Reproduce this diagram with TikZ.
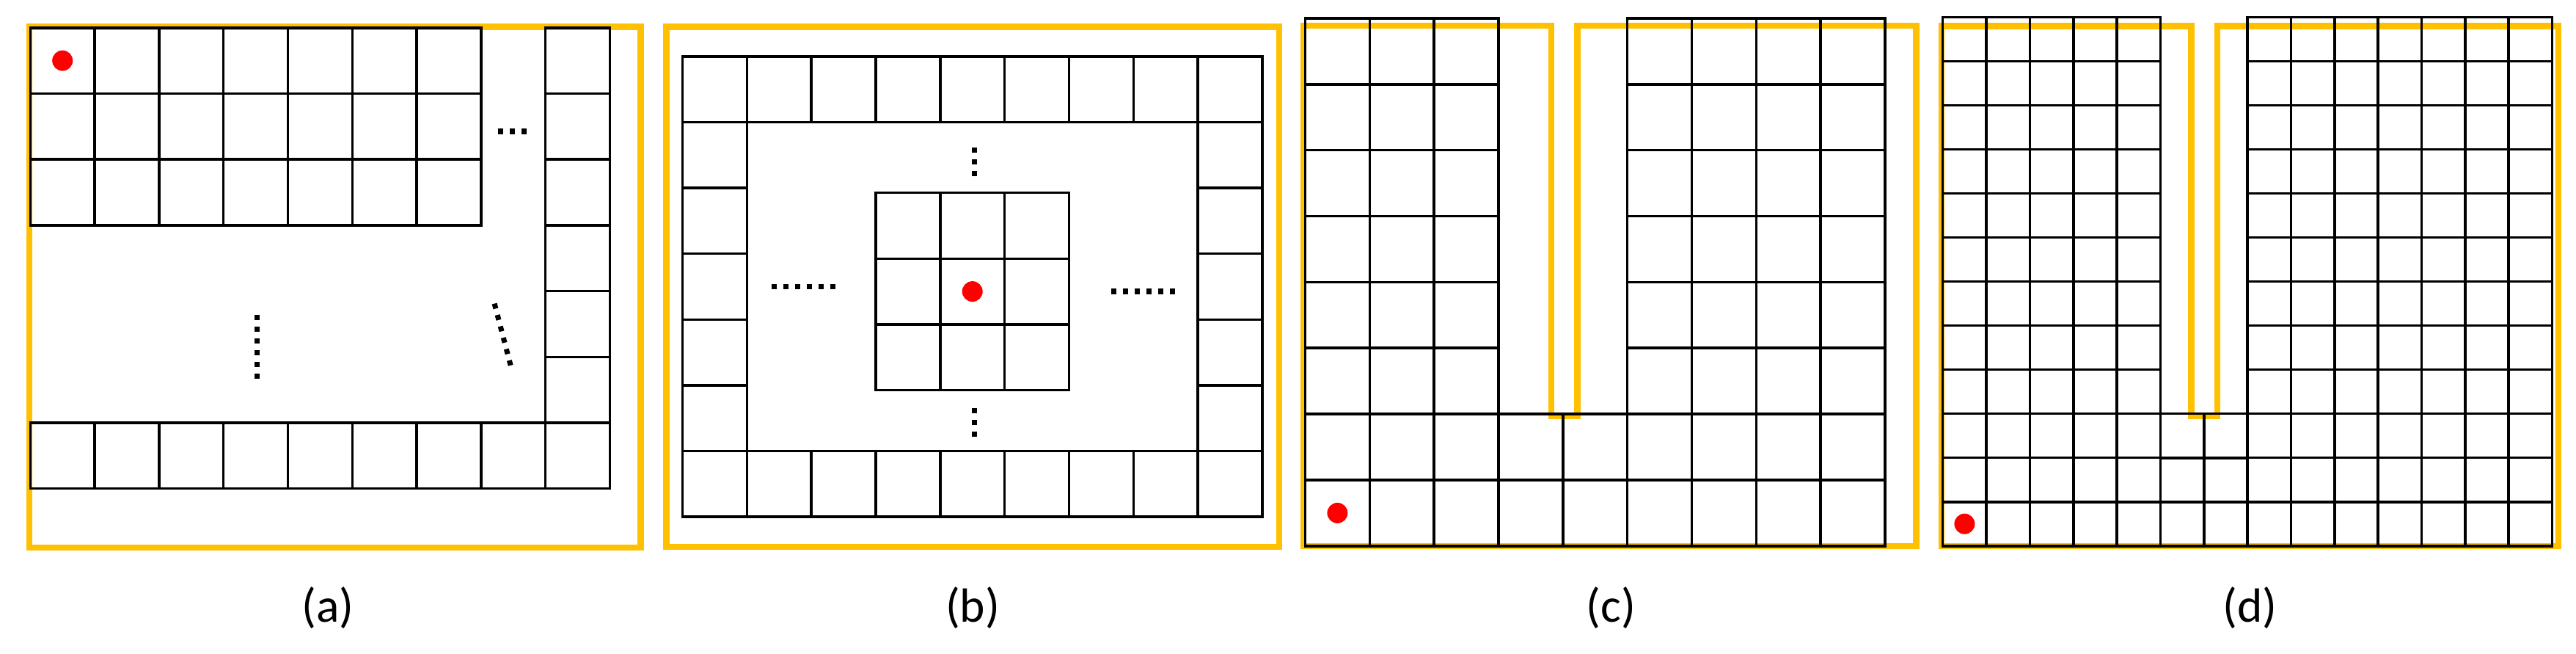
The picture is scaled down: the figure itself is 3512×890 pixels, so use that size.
\documentclass[tikz,border=0pt]{standalone}
\usepackage{fontspec}
\setmainfont{Carlito}
\usepackage{xcolor}
\usepackage{tikz}
\definecolor{frame}{HTML}{FFC000}
\tikzset{
    cellline/.style={line width=1pt, draw=black},
    border/.style={line width=2.4pt, draw=frame},
    agent/.style={fill=red},
    ellip/.style={line width=2pt, dash pattern=on 2pt off 2.55pt},
    caption/.style={font=\fontsize{18.6}{22}\selectfont, inner sep=0pt},
    pics/cells/.style args={#1/#2/#3/#4}{
    code = {
        \foreach \i in {1,...,#1}
            \foreach \j in {1,...,#2}
                \draw[cellline] ({(\i-1)*#3},{(\j-1)*#4}) rectangle ++(#3,#4);
    }}
}
\begin{document}
\begin{tikzpicture}[x=0.01cm,y=-0.01cm]
		\useasboundingbox (0,0) rectangle (3512,890);

		% panel a
		\draw[border] (40.2,36.3) rectangle (873.7,746);
		\pic at (41.3,37.8) {cells=7/3/87.8/89.7};
		\pic at (743.7,37.8) {cells=1/7/87.8/89.7};
		\pic at (41.3,576) {cells=9/1/87.8/89.7};
		\draw[ellip] (678.5,179) -- (718,179);
		\draw[ellip] (350.7,429) -- (350.7,517);
		\draw[ellip] (674.1,413.6) -- (697,501);
		\fill[agent] (85.2,82.6) circle (14);
		\node[caption] (capa) at (447,828) {(a)};

		% panel b
		\draw[border] (908.7,36.3) rectangle (1744,745);
		\pic at (930.5,77) {cells=9/1/87.83/89.57};
		\pic at (930.5,614.4) {cells=9/1/87.83/89.57};
		\pic at (930.5,77) {cells=1/7/87.83/89.57};
		\pic at (1633.1,77) {cells=1/7/87.83/89.57};
		\pic at (1194,262.7) {cells=3/3/87.83/89.57};
		\draw[ellip] (1328,201) -- (1328,241);
		\draw[ellip] (1328,555.5) -- (1328,595.5);
		\draw[ellip] (1052,390.5) -- (1140,390.5);
		\draw[ellip] (1515,397) -- (1603,397);
		\fill[agent] (1325.7,397.1) circle (14);
		\node[caption] (capb) at (1326,828) {(b)};

		% panel c
		\draw[border] (1777,35) -- (2115,35) -- (2115,567) -- (2150.4,567) -- (2150.4,35)
			-- (2612.5,35) -- (2612.5,744) -- (1777,744) -- cycle;
		\pic at (1779.5,24.9) {cells=3/8/87.83/89.86};
		\pic at (2218.7,24.9) {cells=4/8/87.83/89.86};
		\pic at (2043,564.1) {cells=2/2/87.83/89.86};
		\fill[agent] (1823.4,698.9) circle (14);
		\node[caption] (capc) at (2196.5,828) {(c)};

		% panel d
		\draw[border] (2647,35.3) -- (2987.4,35.3) -- (2987.4,567) -- (3023,567) -- (3023,35.3)
			-- (3488,35.3) -- (3488,744) -- (2647,744) -- cycle;
		\pic at (2648.7,23.4) {cells=5/12/59.34/60.03};
		\pic at (3064.1,23.4) {cells=7/12/59.34/60.03};
		\pic at (2945.4,563.7) {cells=2/3/59.34/60.03};
		\fill[agent] (2678.4,713.7) circle (14);
		\node[caption] (capd) at (3067.5,828) {(d)};
	\end{tikzpicture}
\end{document}
